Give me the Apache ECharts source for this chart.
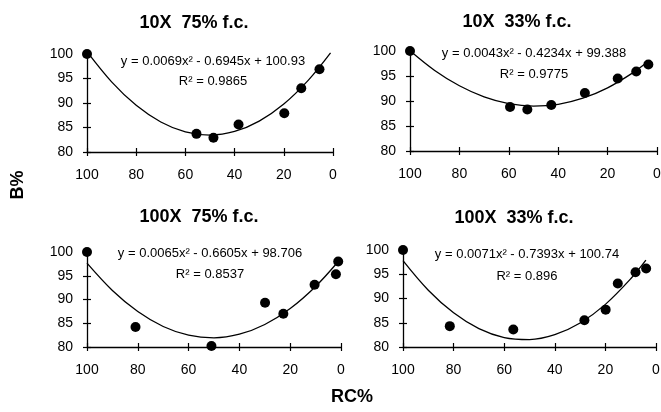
<!DOCTYPE html>
<html>
<head>
<meta charset="utf-8">
<script src="https://cdn.jsdelivr.net/npm/echarts@6/dist/echarts.min.js"></script>
<style>
  html, body { margin: 0; padding: 0; background: #fff; }
  #chart { width: 661px; height: 412px; }
</style>
</head>
<body>
<div id="chart"></div>
<script>
// panel titles and regression labels
var panelTitles = ['10X  75% f.c.', '10X  33% f.c.', '100X  75% f.c.', '100X  33% f.c.']
var equations = [
  'y = 0.0069x² - 0.6945x + 100.93',
  'y = 0.0043x² - 0.4234x + 99.388',
  'y = 0.0065x² - 0.6605x + 98.706',
  'y = 0.0071x² - 0.7393x + 100.74'
]
var rSquared = ['R² = 0.9865', 'R² = 0.9775', 'R² = 0.8537', 'R² = 0.896']

// tick labels
var xTicks = [100, 80, 60, 40, 20, 0]
var yTicks = [80, 85, 90, 95, 100]

// measured points (RC%, B%)
var rc10x75 = [100, 55.5, 48.6, 38.4, 19.8, 12.9, 5.5]
var b10x75 = [100, 83.7, 82.9, 85.6, 87.9, 93.0, 96.9]
var rc10x33 = [100, 59.5, 52.5, 42.8, 29.2, 15.9, 8.4, 3.5]
var b10x33 = [100, 88.8, 88.3, 89.2, 91.6, 94.5, 95.9, 97.3]
var rc100x75 = [100, 80.9, 51.0, 29.9, 22.7, 10.4, 2.0, 1.1]
var b100x75 = [100, 84.2, 80.2, 89.3, 87.0, 93.1, 95.3, 98.0]
var rc100x33 = [100, 81.5, 56.4, 28.3, 19.9, 15.1, 8.1, 3.9]
var b100x33 = [100, 84.3, 83.6, 85.5, 87.7, 93.1, 95.4, 96.2]

// trend line
var fitX1 = [100, 90, 80, 70, 60, 50, 40, 30, 20, 10, 1]
var fitY1 = [100.48, 94.32, 89.53, 86.13, 84.10, 83.46, 84.19, 86.31, 89.80, 94.68, 100.24]
var fitX2 = [100, 90, 80, 70, 60, 50, 40, 30, 20, 10, 3]
var fitY2 = [100.05, 96.11, 93.04, 90.82, 89.46, 88.97, 89.33, 90.56, 92.64, 95.58, 98.16]
var fitX3 = [100, 90, 80, 70, 60, 50, 40, 30, 20, 10, 1.5]
var fitY3 = [97.66, 91.91, 87.47, 84.32, 82.48, 81.93, 82.69, 84.74, 88.10, 92.75, 97.73]
var fitX4 = [100, 90, 80, 70, 60, 50, 40, 30, 20, 10, 4]
var fitY4 = [97.81, 91.71, 87.04, 83.78, 81.94, 81.53, 82.53, 84.95, 88.79, 94.06, 97.90]

var pointsX = [rc10x75, rc10x33, rc100x75, rc100x33]
var pointsY = [b10x75, b10x33, b100x75, b100x33]
var fitsX = [fitX1, fitX2, fitX3, fitX4]
var fitsY = [fitY1, fitY2, fitY3, fitY4]

function zip (a, b) {
  return a.map(function (v, i) { return [v, b[i]] })
}

var FONT = '"Liberation Sans", Arial, sans-serif'
var grids = [
  {left: 87, top: 54, width: 246, height: 98},
  {left: 410, top: 51, width: 247, height: 100},
  {left: 87, top: 252, width: 254, height: 95},
  {left: 403, top: 250, width: 253, height: 97}
]
var titlePos = [[194, 23], [517, 22], [199, 217], [514, 218]]
var eqPos = [[213, 61, 81], [534, 53, 74], [210, 253, 274], [527, 254, 276]]

var xAxes = []
var yAxes = []
var series = []
var graphics = []

grids.forEach(function (g, i) {
  g.containLabel = false
  g.outerBoundsMode = 'none'
  // two axes per side: one with outward ticks and labels, one with inward ticks
  ;[false, true].forEach(function (inside) {
    xAxes.push({
      type: 'value', gridIndex: i, inverse: true, min: 0, max: 100, interval: 20,
      position: 'bottom', offset: 0,
      axisLine: {show: !inside, onZero: false, lineStyle: {color: '#000', width: 1.3}},
      axisTick: {show: true, inside: inside, length: 4, lineStyle: {color: '#000', width: 1.2}},
      axisLabel: {show: !inside, margin: 16, color: '#000', fontSize: 14, fontFamily: FONT,
        formatter: function (v) { return xTicks.indexOf(v) >= 0 ? String(v) : '' }},
      splitLine: {show: false}
    })
    yAxes.push({
      type: 'value', gridIndex: i, min: 80, max: 100, interval: 5,
      position: 'left', offset: 0,
      axisLine: {show: !inside, onZero: false, lineStyle: {color: '#000', width: 1.3}},
      axisTick: {show: true, inside: inside, length: 4, lineStyle: {color: '#000', width: 1.2}},
      axisLabel: {show: !inside, margin: 14, color: '#000', fontSize: 14, fontFamily: FONT,
        formatter: function (v) { return yTicks.indexOf(v) >= 0 ? String(v) : '' }},
      splitLine: {show: false}
    })
  })
  series.push({
    type: 'line', xAxisIndex: i * 2, yAxisIndex: i * 2,
    data: zip(fitsX[i], fitsY[i]), smooth: 0.35, symbol: 'none', clip: false,
    lineStyle: {color: '#000', width: 1.3}, silent: true, z: 2
  })
  series.push({
    type: 'scatter', xAxisIndex: i * 2, yAxisIndex: i * 2,
    data: zip(pointsX[i], pointsY[i]), symbolSize: 10, clip: false,
    itemStyle: {color: '#000', opacity: 1}, z: 3
  })
  graphics.push({
    type: 'text', x: titlePos[i][0], y: titlePos[i][1],
    style: {text: panelTitles[i], textAlign: 'center', textVerticalAlign: 'middle',
      font: 'bold 18px ' + FONT, fill: '#000'}
  })
  graphics.push({
    type: 'text', x: eqPos[i][0], y: eqPos[i][1],
    style: {text: equations[i], textAlign: 'center', textVerticalAlign: 'middle',
      font: '13px ' + FONT, fill: '#000'}
  })
  graphics.push({
    type: 'text', x: eqPos[i][0], y: eqPos[i][2],
    style: {text: rSquared[i], textAlign: 'center', textVerticalAlign: 'middle',
      font: '13px ' + FONT, fill: '#000'}
  })
})

graphics.push({
  type: 'text', x: 18, y: 185, rotation: Math.PI / 2,
  style: {text: 'B%', textAlign: 'center', textVerticalAlign: 'middle',
    font: 'bold 18px ' + FONT, fill: '#000'}
})
graphics.push({
  type: 'text', x: 352, y: 397,
  style: {text: 'RC%', textAlign: 'center', textVerticalAlign: 'middle',
    font: 'bold 18px ' + FONT, fill: '#000'}
})

var myChart = echarts.init(document.getElementById('chart'))
myChart.setOption({
  backgroundColor: '#fff',
  animation: false,
  grid: grids,
  xAxis: xAxes,
  yAxis: yAxes,
  series: series,
  graphic: graphics
})
</script>
</body>
</html>
